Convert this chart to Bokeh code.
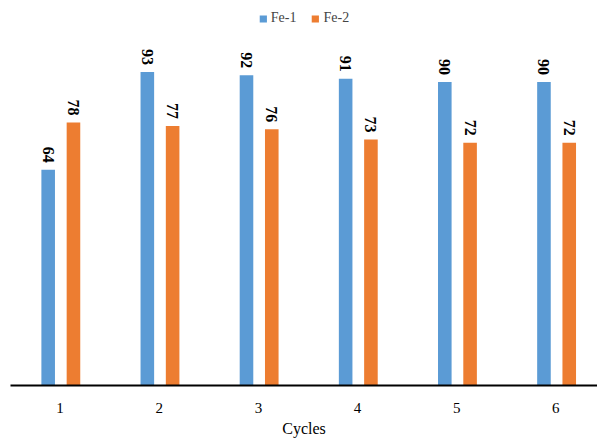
from bokeh.plotting import figure
from bokeh.models import ColumnDataSource, Range1d, FixedTicker, Legend, LegendItem
from bokeh.core.properties import value
from bokeh.embed import file_html
from bokeh.resources import INLINE

cycles = ["1", "2", "3", "4", "5", "6"]
fe1 = [64, 93, 92, 91, 90, 90]
fe2 = [78, 77, 76, 73, 72, 72]

xs = list(range(1, len(cycles) + 1))
off1, off2, bw = -0.12, 0.135, 0.137
src1 = ColumnDataSource(dict(x=[x + off1 for x in xs], top=fe1, lab=[str(v) for v in fe1]))
src2 = ColumnDataSource(dict(x=[x + off2 for x in xs], top=fe2, lab=[str(v) for v in fe2]))

p = figure(width=597, height=439, output_backend="svg", toolbar_location=None,
           x_range=Range1d(0.5, 6.42), y_range=Range1d(0, 114.2),
           min_border_left=10, min_border_right=0, min_border_top=0, min_border_bottom=50)
p.outline_line_color = None
p.grid.visible = False
p.yaxis.visible = False

blue = "#5B9BD5"
orange = "#ED7D31"
r1 = p.vbar(x="x", top="top", width=bw, source=src1, fill_color=blue, line_color=None)
r2 = p.vbar(x="x", top="top", width=bw, source=src2, fill_color=orange, line_color=None)

for s in (src1, src2):
    p.text(x="x", y="top", text="lab", source=s, angle=-1.5708, text_align="right",
           text_baseline="middle", y_offset=-7, text_font=value("Times New Roman"),
           text_font_style="bold", text_font_size="16px", text_color="black")

ax = p.xaxis[0]
ax.ticker = FixedTicker(ticks=xs)
ax.major_label_overrides = {x: c for x, c in zip(xs, cycles)}
ax.major_tick_line_color = None
ax.minor_tick_line_color = None
ax.axis_line_width = 2
ax.axis_line_color = "black"
ax.major_label_text_font = "Liberation Serif"
ax.major_label_text_font_size = "15px"
ax.major_label_text_color = "black"
ax.major_label_standoff = 11
ax.axis_label = "Cycles"
ax.axis_label_text_font = "Liberation Serif"
ax.axis_label_text_font_style = "normal"
ax.axis_label_text_font_size = "16px"
ax.axis_label_text_color = "black"
ax.axis_label_standoff = 4

legend = Legend(items=[LegendItem(label="Fe-1", renderers=[r1]), LegendItem(label="Fe-2", renderers=[r2])],
                orientation="horizontal", location="top_center", border_line_color=None,
                background_fill_alpha=0, label_text_font="Liberation Serif",
                label_text_font_size="14px", glyph_width=9, glyph_height=9,
                label_standoff=4, spacing=14, padding=0, margin=10)
p.add_layout(legend, "center")

open("out.html", "w").write(file_html(p, INLINE))
